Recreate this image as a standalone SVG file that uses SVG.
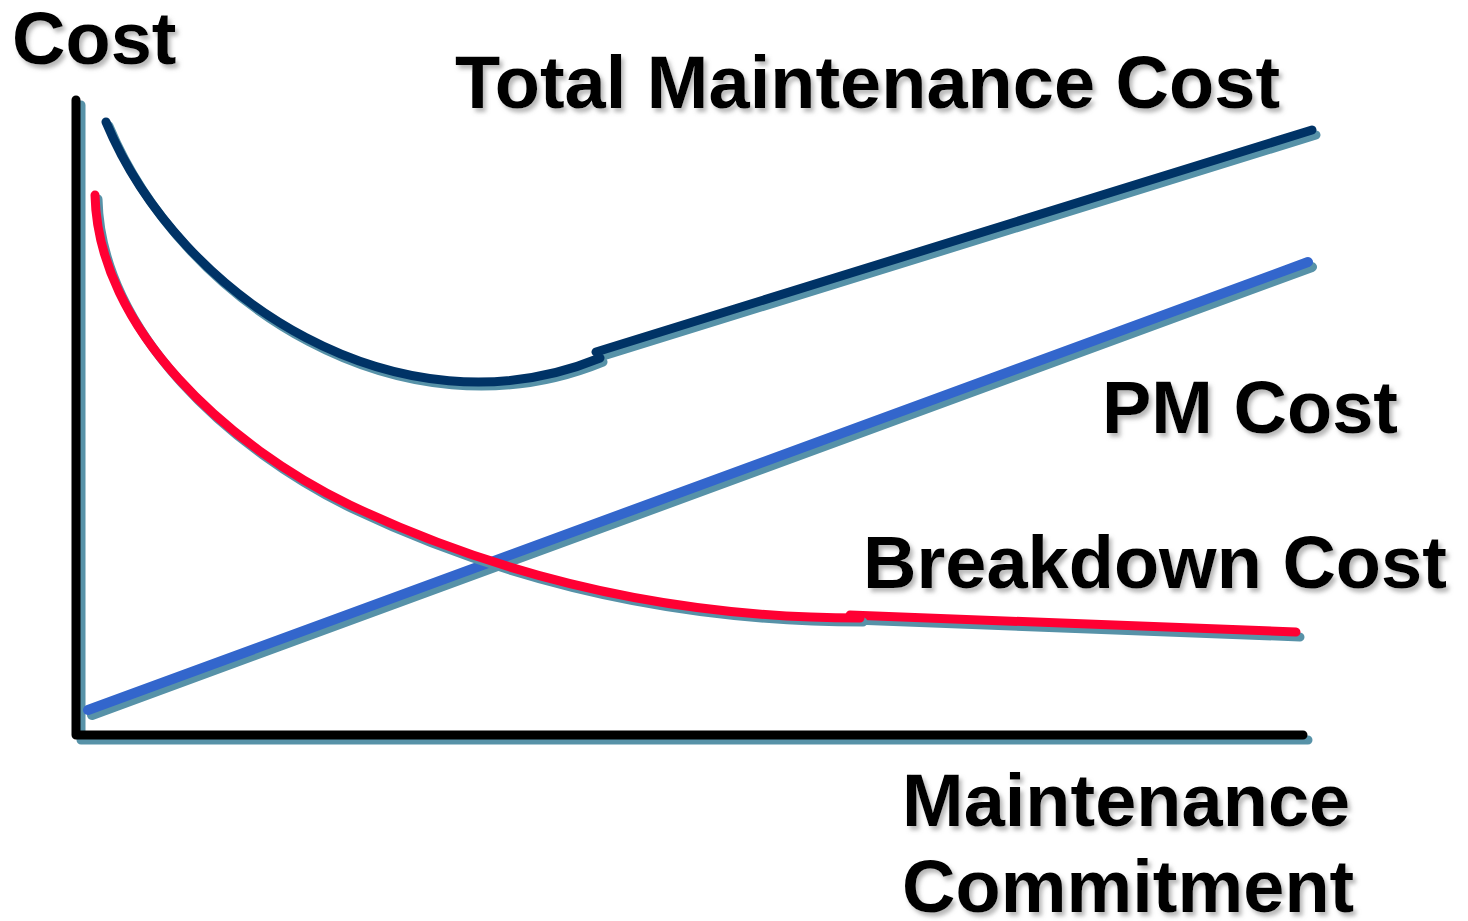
<svg xmlns="http://www.w3.org/2000/svg" xmlns:xlink="http://www.w3.org/1999/xlink" width="1468" height="921" viewBox="0 0 1468 921">
<style>
.lbl{font-family:"Liberation Sans",Arial,sans-serif;font-weight:bold;font-size:74px;fill:#000;filter:url(#ts)}
.ln{fill:none;stroke-linecap:round;stroke-linejoin:round}
.sh{stroke:#5792a8}
.ax{stroke:#000;stroke-width:9}
.navy{stroke:#003366;stroke-width:9}
.blue{stroke:#3366cc;stroke-width:10}
.red{stroke:#ff0033;stroke-width:9}
</style>
<defs>
<filter id="ts" x="-10%" y="-20%" width="130%" height="150%">
<feDropShadow dx="3" dy="4" stdDeviation="2" flood-color="#888" flood-opacity="0.6"/>
</filter>
<path id="axes" d="M76,100 L76,735 L1303,735"/>
<path id="pm" d="M88,710 L1308,262"/>
<path id="bdc" d="M95,195 C98,330 230,447 350,505 C470,562 640,618 860,618"/>
<path id="bdl" d="M850,615 L1296,632"/>
<path id="tmc" d="M106,122 C180,300 400,440 600,358"/>
<path id="tml" d="M596,352 L1312,130"/>
</defs>
<g id="axis">
<use xlink:href="#axes" class="ln sh" stroke-width="9" transform="translate(5,5)"/>
<use xlink:href="#axes" class="ln ax"/>
</g>
<g id="connectors">
<g id="pm-cost">
<use xlink:href="#pm" class="ln sh" stroke-width="10" stroke-linecap="butt" transform="translate(4,5)"/>
<use xlink:href="#pm" class="ln blue" stroke-linecap="butt"/>
</g>
<g id="breakdown-cost">
<use xlink:href="#bdl" class="ln sh" stroke-width="9" stroke-linecap="butt" transform="translate(4,5)"/>
<use xlink:href="#bdl" class="ln red" stroke-linecap="butt"/>
<use xlink:href="#bdc" class="ln sh" stroke-width="9" stroke-linecap="butt" transform="translate(3,4)"/>
<use xlink:href="#bdc" class="ln red"/>
</g>
<g id="total-cost">
<use xlink:href="#tml" class="ln sh" stroke-width="9" stroke-linecap="butt" transform="translate(4,5)"/>
<use xlink:href="#tml" class="ln navy" stroke-linecap="butt"/>
<use xlink:href="#tmc" class="ln sh" stroke-width="9" stroke-linecap="butt" transform="translate(3,4)"/>
<use xlink:href="#tmc" class="ln navy"/>
</g>
</g>
<g id="label-cost"><text class="lbl" x="12" y="64">Cost</text></g>
<g id="label-total"><text class="lbl" x="455" y="108">Total Maintenance Cost</text></g>
<g id="label-pm"><text class="lbl" x="1102" y="433">PM Cost</text></g>
<g id="label-breakdown"><text class="lbl" x="863" y="588">Breakdown Cost</text></g>
<g id="label-commitment"><text class="lbl" x="902" y="826">Maintenance</text><text class="lbl" x="902" y="912">Commitment</text></g>
</svg>
